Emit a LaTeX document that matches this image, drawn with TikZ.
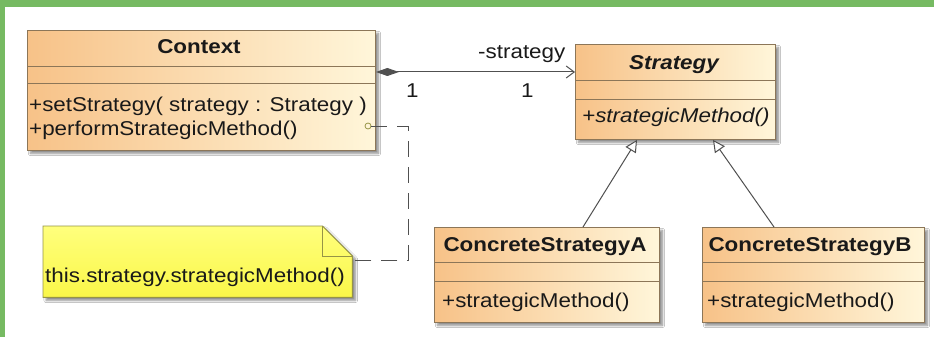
\documentclass[tikz,border=0pt]{standalone}
\usepackage{fontspec}
\setmainfont{Liberation Sans}[FakeStretch=1.12]
\usetikzlibrary{arrows.meta,shadows.blur}

\definecolor{frame}{RGB}{118,186,98}
\definecolor{boxleft}{RGB}{247,194,136}
\definecolor{boxright}{RGB}{255,246,218}
\definecolor{boxedge}{RGB}{140,118,88}
\definecolor{linegray}{RGB}{80,80,80}
\definecolor{notetop}{RGB}{255,255,125}
\definecolor{notebot}{RGB}{250,247,72}
\definecolor{noteedge}{RGB}{150,148,70}
\definecolor{ink}{RGB}{25,25,25}

\tikzset{
  umlbox/.style={draw=boxedge, line width=0.9pt, left color=boxleft, right color=boxright,
    rectangle, anchor=north west, inner sep=0pt,
    blur shadow={shadow xshift=3pt, shadow yshift=-3pt, shadow blur steps=6, shadow opacity=45}},
  sep/.style={draw=boxedge, line width=0.9pt},
  txt/.style={inner sep=0pt, text=ink, font=\fontsize{20}{24}\selectfont},
  lbl/.style={txt, anchor=base west},
  ttl/.style={txt, anchor=base, font=\fontsize{20}{24}\selectfont\bfseries},
  assoc/.style={draw=linegray, line width=1pt,
    {Diamond[length=23pt,width=8pt,fill=linegray]}-{Straight Barb[length=8pt,width=12pt,line width=1pt]}},
  gen/.style={draw=linegray, line width=1pt,
    -{Triangle[open,length=12pt,width=12pt,fill=white,line width=1pt]}},
  notelink/.style={draw=linegray, line width=1pt, dash pattern=on 16pt off 10pt}
}

\begin{document}
\begin{tikzpicture}[x=1pt,y=-1pt]
  % page and green frame along the top and left edges
  \useasboundingbox (0,0) rectangle (934,337);
  \fill[white] (-10,-10) rectangle (944,347);
  \fill[frame] (-10,-10) rectangle (944,7);
  \fill[frame] (-10,-10) rectangle (5,347);

  % class boxes
  \node[umlbox, minimum width=348pt, minimum height=120pt] (ctx) at (27,30) {};
  \node[umlbox, minimum width=200pt, minimum height=95pt] (strat) at (575,44) {};
  \node[umlbox, minimum width=225pt, minimum height=95pt] (ca) at (434,227) {};
  \node[umlbox, minimum width=222pt, minimum height=95pt] (cb) at (702,227) {};

  % compartment separators
  \foreach \b/\i/\j in {ctx/36/53, strat/36/55, ca/35/54, cb/35/54}{
    \draw[sep] ([yshift=-\i pt]\b.north west) -- ([yshift=-\i pt]\b.north east);
    \draw[sep] ([yshift=-\j pt]\b.north west) -- ([yshift=-\j pt]\b.north east);
  }

  % class texts
  \node[ttl] (ctxname) at (199,54) {Context};
  \node[lbl] (ctxm1) at (29,111) {+setStrategy( strategy : Strategy )};
  \node[lbl] (ctxm2) at (29,135) {+performStrategicMethod()};

  \node[ttl, font=\fontsize{20}{24}\selectfont\bfseries\itshape] (stratname) at (674,70) {Strategy};
  \node[lbl, font=\fontsize{20}{24}\selectfont\itshape] (stratm) at (582,122) {+strategicMethod()};

  \node[ttl] (caname) at (545,251) {ConcreteStrategyA};
  \node[lbl] (cam) at (442,307) {+strategicMethod()};

  \node[ttl] (cbname) at (810,251) {ConcreteStrategyB};
  \node[lbl] (cbm) at (707,307) {+strategicMethod()};

  % note with folded corner
  \node[inner sep=0pt, minimum width=309pt, minimum height=71pt, anchor=north west] (note) at (43,226) {};
  \fill[top color=notetop, bottom color=notebot,
        blur shadow={shadow xshift=3pt, shadow yshift=-3pt, shadow blur steps=6, shadow opacity=45}]
    (note.north west) -- ([xshift=-30pt]note.north east) -- ([yshift=-30pt]note.north east)
    -- (note.south east) -- (note.south west) -- cycle;
  \draw[noteedge, line width=0.9pt]
    (note.north west) -- ([xshift=-30pt]note.north east) -- ([yshift=-30pt]note.north east)
    -- (note.south east) -- (note.south west) -- cycle;
  \draw[noteedge, line width=0.9pt]
    ([xshift=-30pt]note.north east) -- ([xshift=-30pt,yshift=-30pt]note.north east)
    -- ([yshift=-30pt]note.north east);
  \node[lbl] (notetext) at (45,282) {this.strategy.strategicMethod()};

  % association Context -> Strategy
  \draw[assoc] ([yshift=-42pt]ctx.north east) -- ([yshift=-28pt]strat.north west);
  \node[lbl] (rolename) at (478,59) {-strategy};
  \node[lbl] (multa) at (406,97) {1};
  \node[lbl] (multb) at (521,97) {1};

  % generalizations
  \draw[gen] ([xshift=149pt]ca.north west) -- ([xshift=62pt]strat.south west);
  \draw[gen] ([xshift=72pt]cb.north west) -- ([xshift=138pt]strat.south west);

  % note attachment
  \node[circle, draw=noteedge, line width=0.8pt, minimum size=6pt, inner sep=0pt] (hook) at (368,126) {};
  \draw[notelink] (hook.east) -- ++(37,0) |- ([yshift=-34pt]note.north east);
\end{tikzpicture}
\end{document}
